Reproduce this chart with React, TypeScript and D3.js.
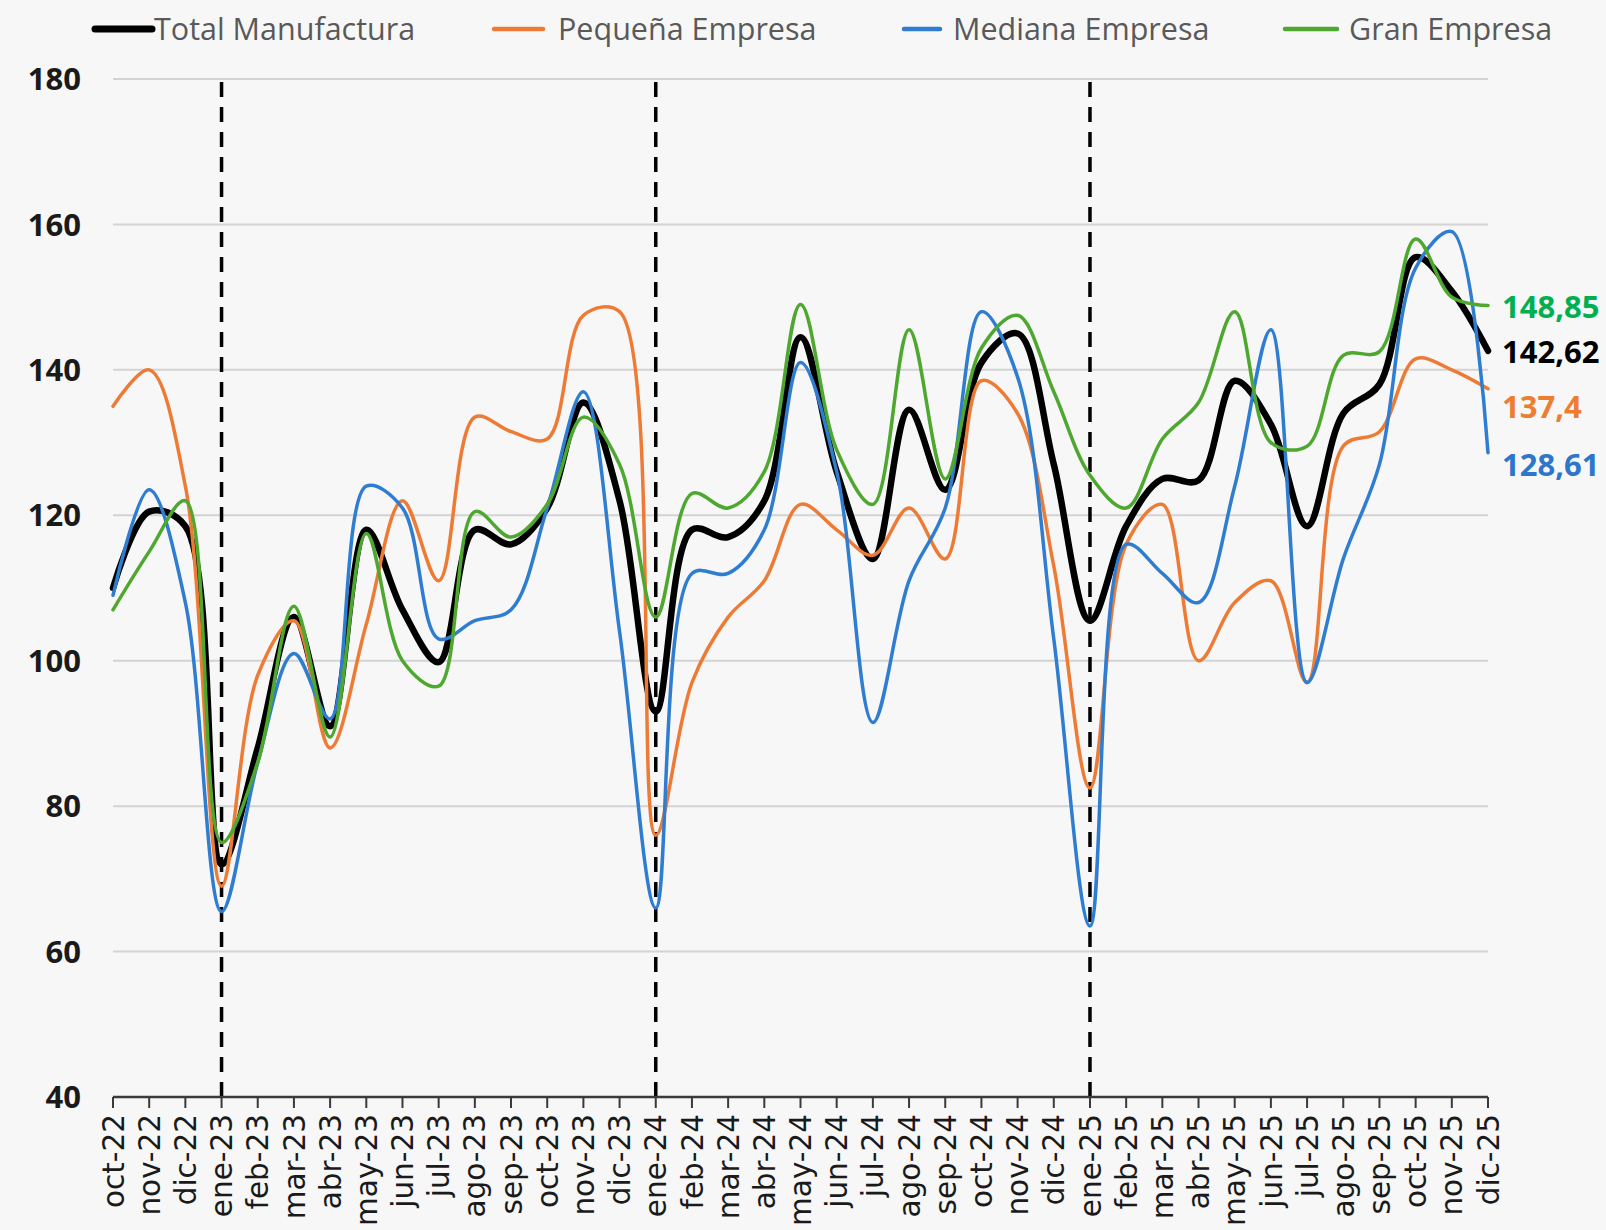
import React from 'react'
import * as d3 from 'd3'

const MESES = [
  'oct-22', 'nov-22', 'dic-22', 'ene-23', 'feb-23', 'mar-23', 'abr-23', 'may-23', 'jun-23', 'jul-23',
  'ago-23', 'sep-23', 'oct-23', 'nov-23', 'dic-23', 'ene-24', 'feb-24', 'mar-24', 'abr-24', 'may-24',
  'jun-24', 'jul-24', 'ago-24', 'sep-24', 'oct-24', 'nov-24', 'dic-24', 'ene-25', 'feb-25', 'mar-25',
  'abr-25', 'may-25', 'jun-25', 'jul-25', 'ago-25', 'sep-25', 'oct-25', 'nov-25', 'dic-25',
]

const TOTAL = [
  110, 120.5, 118.5, 72, 88, 106, 91, 118, 107, 99.8,
  118, 116, 121, 135.5, 122, 93, 118, 117, 122, 144.5,
  126, 114, 134.5, 123.5, 141, 145, 127, 105.5, 118.5, 125,
  124.8, 138.5, 132.5, 118.5, 134, 138, 155.5, 150.8, 142.62,
]

const PEQUENA = [
  135, 140, 124, 69, 98, 105.5, 88, 105, 122, 111,
  133.5, 131.5, 130.5, 147.5, 148, 76, 97, 106, 111, 121.5,
  118, 114.5, 121, 114, 138.5, 134, 113, 82.5, 116, 121.5,
  100, 108, 111, 97, 129.5, 131.5, 141.5, 140, 137.4,
]

const MEDIANA = [
  109, 123.5, 108, 65.5, 86, 101, 92, 124, 121, 103,
  105.5, 107, 121, 137, 104, 66, 112, 112, 118, 141,
  126, 91.5, 111, 121, 148, 139, 103, 63.5, 116, 112,
  108, 124, 145.5, 97, 114, 127, 154, 159, 128.61,
]

const GRAN = [
  107, 115, 122, 75, 86, 107.5, 89.5, 117.5, 100, 96.5,
  120.5, 117, 121.5, 133.5, 127, 106, 123, 121, 126, 149,
  129, 121.5, 145.5, 125, 143, 147.5, 137, 125.5, 121, 130.5,
  135.5, 148, 130, 129.5, 142, 142.5, 158, 150, 148.85,
]

const Y_TICKS = [40, 60, 80, 100, 120, 140, 160, 180]
const CORTES = ['ene-23', 'ene-24', 'ene-25']
const FINALES = ['148,85', '142,62', '137,4', '128,61']

const W = 1606
const H = 1230

const SERIES = [
  { name: 'Total Manufactura', values: TOTAL, color: '#000000', width: 6.5 },
  { name: 'Pequeña Empresa', values: PEQUENA, color: '#EE7B35', width: 3.5 },
  { name: 'Mediana Empresa', values: MEDIANA, color: '#2E7DD1', width: 3.5 },
  { name: 'Gran Empresa', values: GRAN, color: '#4EA72E', width: 3.5 },
]

// legend positions (line start, line end, text start)
const LEGEND = [
  { x0: 95, x1: 152, tx: 154 },
  { x0: 494, x1: 543, tx: 558 },
  { x0: 904, x1: 940, tx: 953 },
  { x0: 1285, x1: 1337, tx: 1349 },
]

// end labels: green, black, orange, blue
const END_LABELS = [
  { text: FINALES[0], color: '#00B050', y: 307 },
  { text: FINALES[1], color: '#000000', y: 352 },
  { text: FINALES[2], color: '#ED7D31', y: 407 },
  { text: FINALES[3], color: '#2E75CC', y: 465 },
]

export default function App() {
  const x = d3.scalePoint<string>().domain(MESES).range([113, 1488])
  const y = d3.scaleLinear().domain([40, 180]).range([1097, 79])

  // centripetal smoothing keeps the Excel-like curves from overshooting
  const line = d3
    .line<number>()
    .x((_, i) => x(MESES[i]) as number)
    .y((d) => y(d))
    .curve(d3.curveCatmullRom.alpha(0.5))

  const x0 = x(MESES[0]) as number
  const x1 = x(MESES[MESES.length - 1]) as number

  return (
    <svg
      width={W}
      height={H}
      style={{ position: 'absolute', left: 0, top: 0, display: 'block' }}
      fontFamily="'Open Sans', sans-serif"
    >
      <rect x={0} y={0} width={W} height={H} fill="#F7F7F7" />

      {/* Grid lines */}
      {Y_TICKS.filter((t) => t > 40).map((t) => (
        <line key={t} x1={x0} x2={x1} y1={y(t)} y2={y(t)} stroke="#D3D3D3" strokeWidth={2} />
      ))}

      {/* Y labels */}
      {Y_TICKS.map((t) => (
        <text key={t} x={81} y={y(t)} dy="0.36em" textAnchor="end" fontSize={31} fontWeight={700} fill="#1a1a1a">
          {t}
        </text>
      ))}

      {/* Dashed January markers */}
      {CORTES.map((m) => (
        <line
          key={m}
          x1={x(m)}
          x2={x(m)}
          y1={y(180) + 3}
          y2={y(40) + 2}
          stroke="#000"
          strokeWidth={3.5}
          strokeDasharray="15 10"
        />
      ))}

      {/* X axis */}
      <line x1={x0} x2={x1} y1={y(40)} y2={y(40)} stroke="#3a3a3a" strokeWidth={2.5} />
      {MESES.map((m) => (
        <line key={m} x1={x(m)} x2={x(m)} y1={y(40)} y2={y(40) + 11} stroke="#3a3a3a" strokeWidth={2} />
      ))}
      {MESES.map((m) => (
        <text
          key={m}
          transform={`translate(${x(m)},${y(40) + 17}) rotate(-90)`}
          dy="0.36em"
          textAnchor="end"
          fontFamily="'DejaVu Sans', sans-serif"
          fontSize={29.5}
          fill="#1a1a1a"
        >
          {m}
        </text>
      ))}

      {/* Series */}
      {SERIES.map((s) => (
        <path
          key={s.name}
          d={line(s.values) || ''}
          fill="none"
          stroke={s.color}
          strokeWidth={s.width}
          strokeLinejoin="round"
          strokeLinecap="round"
        />
      ))}

      {/* End labels */}
      {END_LABELS.map((l) => (
        <text key={l.text} x={1502} y={l.y} dy="0.36em" fontSize={31} fontWeight={700} fill={l.color}>
          {l.text}
        </text>
      ))}

      {/* Legend */}
      {SERIES.map((s, i) => (
        <g key={s.name}>
          <line
            x1={LEGEND[i].x0}
            x2={LEGEND[i].x1}
            y1={29}
            y2={29}
            stroke={s.color}
            strokeWidth={i === 0 ? 7 : 4.5}
            strokeLinecap="round"
          />
          <text x={LEGEND[i].tx} y={29} dy="0.36em" fontSize={30.5} fill="#595959">
            {s.name}
          </text>
        </g>
      ))}
    </svg>
  )
}
